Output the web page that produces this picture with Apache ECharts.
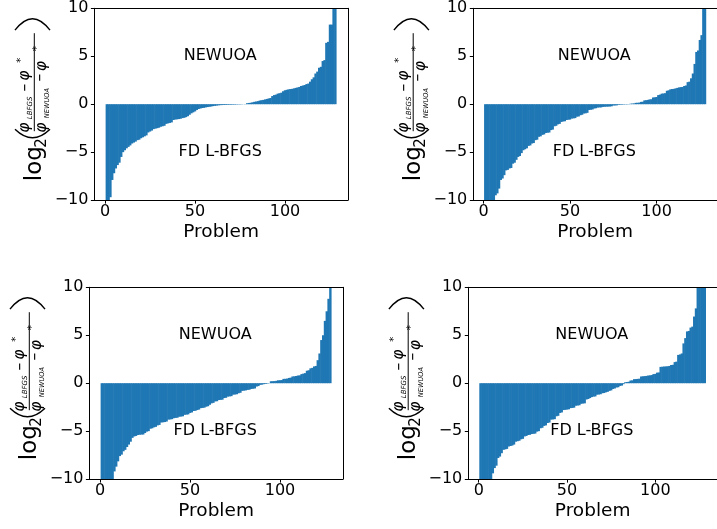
<!DOCTYPE html>
<html>
<head>
<meta charset="utf-8">
<script src="https://cdn.jsdelivr.net/npm/echarts@6/dist/echarts.min.js"></script>
<style>
  html, body { margin: 0; padding: 0; background: #fff; }
  #chart { width: 717px; height: 529px; }
</style>
</head>
<body>
<div id="chart"></div>
<script>
// log2 ratio of final objective gaps, one bar per test problem, sorted.
// Values below -10 or above 10 run off the axis and are clipped.
const runA = [
  -12, -12, -9.7, -7.9, -7.2, -6.7, -6.35, -6.1, -5.5, -5.0,
  -4.8, -4.6, -4.45, -4.3, -4.1, -4.0, -3.9, -3.75, -3.7, -3.55,
  -3.45, -3.35, -3.25, -2.95, -2.85, -2.75, -2.6, -2.55, -2.5, -2.45,
  -2.35, -2.3, -2.25, -2.05, -2.0, -1.95, -1.9, -1.65, -1.6, -1.58,
  -1.55, -1.52, -1.45, -1.42, -1.35, -1.25, -1.1, -0.95, -0.85, -0.75,
  -0.6, -0.5, -0.45, -0.4, -0.38, -0.33, -0.3, -0.27, -0.24, -0.2,
  -0.17, -0.15, -0.12, -0.1, -0.09, -0.08, -0.08, -0.07, -0.06, -0.06,
  -0.05, -0.05, -0.04, -0.03, -0.03, -0.02, 0.01, 0.02, 0.1, 0.13,
  0.15, 0.2, 0.25, 0.28, 0.32, 0.38, 0.42, 0.45, 0.5, 0.55,
  0.6, 0.65, 0.85, 0.95, 1.0, 1.1, 1.15, 1.2, 1.35, 1.45,
  1.5, 1.55, 1.58, 1.6, 1.65, 1.7, 1.75, 1.8, 1.9, 1.95,
  2.0, 2.1, 2.15, 2.35, 2.6, 2.8, 3.2, 3.4, 3.8, 3.9,
  4.5, 4.6, 6.4, 6.5, 8.3, 8.3, 12, 12
];
const runB = [
  -12, -12, -12, -12, -12, -12, -9.5, -9.3, -8.8, -7.9,
  -7.75, -7.4, -6.9, -6.85, -6.7, -6.65, -6.2, -6.1, -5.8, -5.5,
  -5.4, -5.1, -4.8, -4.7, -4.6, -4.35, -4.3, -4.1, -4.05, -3.75,
  -3.7, -3.4, -3.35, -3.2, -3.15, -3.0, -2.98, -2.95, -2.7, -2.65,
  -2.3, -2.25, -2.1, -2.05, -1.85, -1.8, -1.78, -1.65, -1.62, -1.6,
  -1.5, -1.48, -1.45, -1.3, -1.28, -1.15, -1.1, -0.97, -0.95, -0.9,
  -0.6, -0.58, -0.55, -0.45, -0.42, -0.35, -0.34, -0.33, -0.28, -0.27,
  -0.26, -0.25, -0.24, -0.22, -0.14, -0.13, -0.12, -0.07, -0.06, -0.05,
  -0.04, -0.03, -0.03, -0.02, 0.05, 0.07, 0.08, 0.14, 0.15, 0.16,
  0.24, 0.26, 0.4, 0.42, 0.45, 0.5, 0.52, 0.7, 0.72, 0.75,
  0.95, 1.0, 1.1, 1.12, 1.15, 1.4, 1.45, 1.55, 1.58, 1.6,
  1.65, 1.7, 1.75, 1.78, 1.8, 1.9, 1.95, 2.3, 2.35, 2.7,
  3.2, 4.2, 5.45, 5.6, 6.7, 7.2, 12, 12
];
const runC = [
  -12, -12, -12, -12, -12, -12, -12, -9.2, -8.7, -8.15,
  -7.6, -7.45, -7.1, -6.95, -6.65, -6.4, -6.1, -5.7, -5.55, -5.5,
  -5.4, -5.38, -5.36, -5.35, -5.2, -5.05, -5.0, -4.75, -4.7, -4.6,
  -4.55, -4.4, -4.35, -4.1, -4.08, -4.05, -4.0, -3.8, -3.78, -3.75,
  -3.65, -3.62, -3.6, -3.5, -3.48, -3.45, -3.3, -3.28, -3.25, -3.1,
  -3.05, -2.9, -2.88, -2.8, -2.75, -2.6, -2.58, -2.55, -2.45, -2.4,
  -2.25, -2.1, -2.05, -1.9, -1.88, -1.75, -1.74, -1.72, -1.55, -1.52,
  -1.4, -1.38, -1.35, -1.2, -1.18, -1.15, -1.05, -1.0, -0.8, -0.78,
  -0.75, -0.7, -0.68, -0.6, -0.58, -0.55, -0.35, -0.3, -0.17, -0.15,
  -0.1, -0.08, -0.05, 0.02, 0.2, 0.21, 0.22, 0.25, 0.3, 0.31,
  0.33, 0.45, 0.46, 0.48, 0.55, 0.58, 0.7, 0.72, 0.75, 0.8,
  0.82, 0.95, 1.0, 1.05, 1.3, 1.35, 1.55, 1.6, 1.75, 1.8,
  2.4, 3.1, 4.5, 5.0, 6.5, 7.5, 8.8, 12
];
const runD = [
  -12, -12, -12, -12, -12, -12, -12, -9.4, -8.85, -8.6,
  -7.8, -7.65, -7.3, -6.95, -6.9, -6.85, -6.6, -6.55, -6.5, -6.4,
  -6.1, -6.05, -6.0, -5.85, -5.8, -5.55, -5.5, -5.4, -5.38, -5.3,
  -5.28, -5.25, -5.05, -5.0, -4.7, -4.65, -4.45, -4.4, -4.15, -4.1,
  -3.8, -3.78, -3.75, -3.45, -3.4, -3.1, -3.05, -2.8, -2.78, -2.75,
  -2.72, -2.6, -2.58, -2.55, -2.35, -2.33, -2.3, -2.15, -2.12, -2.1,
  -1.7, -1.65, -1.55, -1.45, -1.4, -1.38, -1.2, -1.18, -1.15, -1.05,
  -1.02, -0.95, -0.9, -0.8, -0.75, -0.6, -0.55, -0.45, -0.42, -0.28,
  -0.25, -0.1, 0.1, 0.12, 0.15, 0.28, 0.3, 0.42, 0.43, 0.45,
  0.47, 0.7, 0.72, 0.74, 0.76, 0.8, 0.82, 0.85, 0.95, 0.97,
  1.1, 1.12, 1.7, 1.72, 1.74, 1.75, 1.77, 1.8, 1.9, 1.92,
  2.2, 2.25, 2.95, 3.0, 3.1, 4.15, 4.7, 5.4, 5.45, 5.8,
  5.9, 6.95, 7.8, 12, 12, 12, 12, 12
];

const xTicks = [0, 50, 100];
const yTicks = [-10, -5, 0, 5, 10];
const regionText = ['NEWUOA', 'FD L-BFGS'];
const regionX = [64, 64];
const regionY = [5, -5];
const xName = 'Problem';

const FONT = '"DejaVu Sans", sans-serif';
const BLUE = '#1f77b4';

// panel frames (px)
const PW = 253.4, PH = 191.8;
const frames = [
  { data: runA, left: 94.4, top: 8.3 },
  { data: runB, left: 473.3, top: 8.3 },
  { data: runC, left: 89.4, top: 287.3 },
  { data: runD, left: 468.3, top: 287.3 }
];
const X_MIN = -5.9, X_MAX = 134.9;

const fmtY = v => (v < 0 ? '\u2212' + Math.abs(v) : String(v));

const grid = [], xAxis = [], yAxis = [], series = [], graphic = [];

// Composed axis title: log2( (phi_LBFGS - phi*) / (phi_NEWUOA - phi*) ),
// laid out horizontally in a group that is then turned to read upwards.
function yTitle(ax, ay) {
  const kids = [];
  const put = (text, x, midY, size, italic, bold) => {
    const font = (italic ? 'italic ' : '') + (bold ? 'bold ' : '') + size + 'px ' + FONT;
    kids.push({
      type: 'text', x: x, y: midY,
      style: { text: text, font: font, fill: '#000', align: 'left', verticalAlign: 'middle' }
    });
  };
  const paren = (xEnd, xCtrl) => kids.push({
    type: 'bezierCurve', shape: { x1: xEnd, y1: -19, x2: xEnd, y2: 16, cpx1: xCtrl, cpy1: -1.5 },
    style: { stroke: '#000', lineWidth: 1.4, fill: null }
  });
  put('log', -77, 8 - 0.3 * 23, 23);
  put('2', -43.5, 13 - 0.3 * 15, 15);
  paren(-25, -42);
  // numerator
  put('\u03c6', -28.5, -4.3 - 4.5, 15.5, true);
  put('LBFGS', -15, -1.5 - 2.1, 7, true);
  put('\u2212', 12.5, -8.5, 10, false, true);
  put('\u03c6', 23.5, -4.3 - 4.5, 15.5, true);
  put('*', 41.5, -13, 10);
  // denominator
  put('\u03c6', -28.5, 12.7 - 4.5, 15.5, true);
  put('NEWUOA', -14, 15.2 - 2, 6.6, true);
  put('\u2212', 22.5, 6, 10, false, true);
  put('\u03c6', 33, 12.7 - 4.5, 15.5, true);
  put('*', 53, 3.5, 10);
  kids.push({ type: 'line', shape: { x1: -27, y1: 0.3, x2: 71, y2: 0.3 }, style: { stroke: '#000', lineWidth: 1 } });
  paren(74, 97);
  return { type: 'group', x: ax, y: ay, rotation: Math.PI / 2, children: kids };
}

// one unit-wide bar per problem, placed through the axis scales
function barItem(params, api) {
  const i = api.value(0), v = api.value(1);
  const a = api.coord([i - 0.5, 0]);
  const b = api.coord([i + 0.5, v]);
  const rect = {
    x: Math.min(a[0], b[0]) - 0.3,
    y: Math.min(a[1], b[1]),
    width: Math.abs(b[0] - a[0]) + 0.6,
    height: Math.abs(b[1] - a[1])
  };
  const cs = params.coordSys;
  const shape = echarts.graphic.clipRectByRect(rect, { x: cs.x, y: cs.y, width: cs.width, height: cs.height });
  return shape && { type: 'rect', shape: shape, style: { fill: BLUE } };
}

frames.forEach((f, k) => {
  grid.push({ left: f.left, top: f.top, width: PW, height: PH, show: false });
  const lineStyle = { color: '#000', width: 1 };
  xAxis.push({
    type: 'value', gridIndex: k, min: X_MIN, max: X_MAX, position: 'bottom', z: 10,
    splitLine: { show: false },
    axisLine: { show: true, onZero: false, lineStyle },
    axisTick: { show: true, length: 3.5, lineStyle, customValues: xTicks },
    axisLabel: { show: true, customValues: xTicks, fontSize: 16, fontFamily: FONT, color: '#000', margin: 4 },
    name: xName, nameLocation: 'middle', nameGap: 23,
    nameTextStyle: { fontSize: 18.5, fontFamily: FONT, color: '#000' }
  });
  xAxis.push({
    type: 'value', gridIndex: k, min: X_MIN, max: X_MAX, position: 'top', z: 10,
    splitLine: { show: false }, axisLine: { show: true, onZero: false, lineStyle },
    axisTick: { show: false }, axisLabel: { show: false }
  });
  yAxis.push({
    type: 'value', gridIndex: k, min: yTicks[0], max: yTicks[yTicks.length - 1], interval: 5,
    position: 'left', z: 10,
    splitLine: { show: false },
    axisLine: { show: true, onZero: false, lineStyle },
    axisTick: { show: true, length: 3.5, lineStyle },
    axisLabel: { fontSize: 16, fontFamily: FONT, color: '#000', margin: 6, formatter: fmtY }
  });
  yAxis.push({
    type: 'value', gridIndex: k, min: yTicks[0], max: yTicks[yTicks.length - 1], interval: 5,
    position: 'right', z: 10,
    splitLine: { show: false }, axisLine: { show: true, onZero: false, lineStyle },
    axisTick: { show: false }, axisLabel: { show: false }
  });
  series.push({
    type: 'custom', xAxisIndex: 2 * k, yAxisIndex: 2 * k, silent: true,
    data: f.data.map((v, i) => [i + 1, v]),
    renderItem: barItem
  });
  series.push({
    type: 'custom', xAxisIndex: 2 * k, yAxisIndex: 2 * k, silent: true, clip: false, z: 5,
    data: regionText.map((t, i) => [regionX[i], regionY[i]]),
    renderItem: (params, api) => {
      const p = api.coord([api.value(0), api.value(1)]);
      return { type: 'text', x: p[0], y: p[1],
        style: { text: regionText[params.dataIndex], font: '16px ' + FONT, fill: '#000', align: 'center', verticalAlign: 'middle' } };
    }
  });
  graphic.push(yTitle(f.left - 60.4, f.top + PH / 2));
});

const chart = echarts.init(document.getElementById('chart'), null, { renderer: 'canvas', width: 717, height: 529 });
chart.setOption({ animation: false, backgroundColor: '#fff', grid, xAxis, yAxis, series, graphic });
</script>
</body>
</html>
